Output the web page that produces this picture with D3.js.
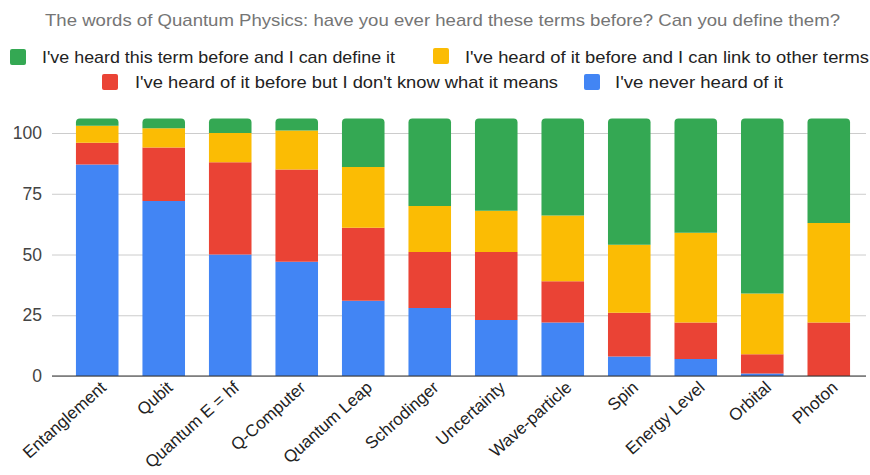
<!DOCTYPE html>
<html>
<head>
<meta charset="utf-8">
<script src="https://cdn.jsdelivr.net/npm/d3@7"></script>
<style>
  html, body { margin: 0; padding: 0; background: #fff; }
  svg { display: block; font-family: "Liberation Sans", Arial, sans-serif; }
</style>
</head>
<body>
<svg id="chart" width="870" height="475"></svg>
<script>
const categories = ["Entanglement", "Qubit", "Quantum E = hf", "Q-Computer", "Quantum Leap", "Schrodinger",
  "Uncertainty", "Wave-particle", "Spin", "Energy Level", "Orbital", "Photon"];
const neverHeard = [87, 72, 50, 47, 31, 28, 23, 22, 8, 7, 1, 0];
const dontKnow   = [9, 22, 38, 38, 30, 23, 28, 17, 18, 15, 8, 22];
const linkTerms  = [7, 8, 12, 16, 25, 19, 17, 27, 28, 37, 25, 41];
const defineIt   = [3, 4, 6, 5, 20, 36, 38, 40, 52, 47, 72, 43];
const yTicks = [0, 25, 50, 75, 100];
const seriesNames = [
  "I've heard this term before and I can define it",
  "I've heard of it before and I can link to other terms",
  "I've heard of it before but I don't know what it means",
  "I've never heard of it"
];
const title = "The words of Quantum Physics: have you ever heard these terms before? Can you define them?";

const colors = {
  never: "#4285f4", dont: "#ea4335", link: "#fbbc04", define: "#34a853"
};

const svg = d3.select("#chart");

const table = categories.map((c, i) => ({
  cat: c, never: neverHeard[i], dont: dontKnow[i], link: linkTerms[i], define: defineIt[i]
}));
const keys = ["never", "dont", "link", "define"];
const stacked = d3.stack().keys(keys)(table);

const x = d3.scaleBand().domain(categories).range([52, 874]).paddingInner(0.36).paddingOuter(0.36);
const y = d3.scaleLinear().domain([0, 100]).range([376, 133]);

// title
svg.append("text")
  .attr("x", 45).attr("y", 26)
  .attr("textLength", 795).attr("lengthAdjust", "spacingAndGlyphs")
  .attr("font-size", 17).attr("fill", "#757575")
  .text(title);

// legend
const legendItems = [
  { key: "define", name: seriesNames[0], sx: 10, sy: 49, tx: 42, ty: 63, tw: 353 },
  { key: "link",   name: seriesNames[1], sx: 433, sy: 48, tx: 465, ty: 63, tw: 404 },
  { key: "dont",   name: seriesNames[2], sx: 102, sy: 74, tx: 135, ty: 88, tw: 423 },
  { key: "never",  name: seriesNames[3], sx: 584, sy: 74, tx: 615, ty: 88, tw: 168 }
];
const lg = svg.append("g");
legendItems.forEach(d => {
  lg.append("rect").attr("x", d.sx).attr("y", d.sy).attr("width", 16).attr("height", 16)
    .attr("rx", 2).attr("fill", colors[d.key]);
  lg.append("text").attr("x", d.tx).attr("y", d.ty)
    .attr("textLength", d.tw).attr("lengthAdjust", "spacingAndGlyphs")
    .attr("font-size", 17).attr("fill", "#222").text(d.name);
});

// gridlines + y labels
const yAxis = d3.axisLeft(y).tickValues(yTicks).tickSize(-(866 - 52)).tickPadding(10).tickFormat(d3.format("d"));
const ga = svg.append("g").attr("transform", "translate(52,0)").call(yAxis);
ga.select(".domain").remove();
ga.selectAll(".tick line").attr("stroke", "#cccccc").attr("stroke-width", 1);
ga.selectAll(".tick text").attr("font-size", 17.5).attr("fill", "#444").attr("font-family", "Liberation Sans, Arial, sans-serif");

// bars
const r = 4;
function segPath(x0, w, yTop, yBot, rounded) {
  const h = yBot - yTop;
  if (h <= 0) return "";
  if (!rounded) return `M${x0},${yBot}V${yTop}H${x0 + w}V${yBot}Z`;
  const rr = Math.min(r, h);
  return `M${x0},${yBot}V${yTop + rr}Q${x0},${yTop} ${x0 + rr},${yTop}H${x0 + w - rr}Q${x0 + w},${yTop} ${x0 + w},${yTop + rr}V${yBot}Z`;
}
const bars = svg.append("g");
stacked.forEach(layer => {
  bars.append("g").attr("fill", colors[layer.key])
    .selectAll("path").data(layer).join("path")
    .attr("d", d => segPath(x(d.data.cat), x.bandwidth(), y(d[1]), y(d[0]), layer.key === "define"));
});

// baseline
svg.append("line").attr("x1", 52).attr("x2", 866).attr("y1", y(0)).attr("y2", y(0))
  .attr("stroke", "#333").attr("stroke-width", 1);

// x labels
const xa = svg.append("g");
categories.forEach(c => {
  const cx = x(c) + x.bandwidth() / 2 + 10;
  xa.append("text")
    .attr("transform", `translate(${cx},${389}) rotate(-42)`)
    .attr("text-anchor", "end")
    .attr("font-size", 17).attr("fill", "#222")
    .text(c);
});
</script>
</body>
</html>
